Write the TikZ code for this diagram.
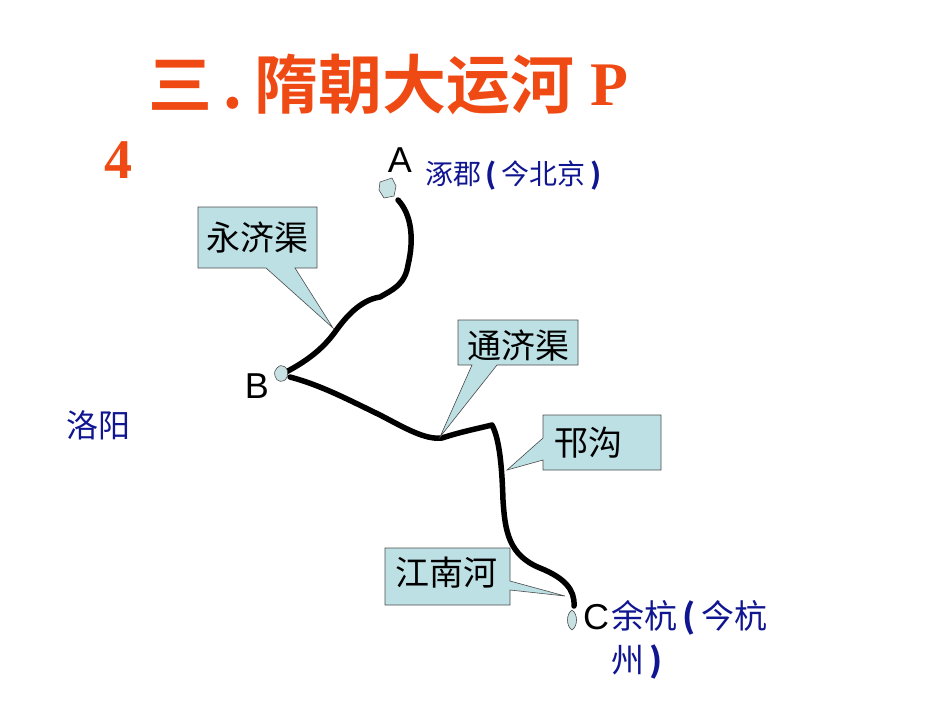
\documentclass[tikz,border=0pt]{standalone}
\usepackage{fontspec}
\setmainfont{Liberation Sans}
\newfontfamily\serifb{Liberation Serif}
\newfontfamily\cjk{Noto Sans CJK SC}
\newfontfamily\cjkb{Noto Sans CJK SC Bold}
\definecolor{tred}{HTML}{F04A14}
\definecolor{navy}{HTML}{101590}
\definecolor{callfill}{HTML}{BDE0E4}
\definecolor{lakefill}{HTML}{C8E2E4}
\begin{document}
\begin{tikzpicture}[x=1pt,y=-1pt,
  callout/.style={draw=black!70,fill=callfill,line width=0.6pt},
  calltext/.style={font=\cjk\fontsize{34}{36}\selectfont,inner sep=0pt},
  lake/.style={draw=black!70,fill=lakefill,line width=0.6pt},
  river/.style={line width=5.5pt,line join=round,line cap=round},
  letter/.style={font=\fontsize{36}{38}\selectfont,inner sep=0pt},
  bluetext/.style={text=navy,font=\cjk\fontsize{28}{30}\selectfont,anchor=west,inner sep=0pt}]
\useasboundingbox (0,0) rectangle (950,713);
% title
\node[text=tred,font=\cjkb\fontsize{64}{66}\selectfont,anchor=west,inner sep=0pt] (title) at (148,85) {三\,.\,隋朝大运河};
\node[text=tred,font=\serifb\bfseries\fontsize{62}{64}\selectfont,anchor=west,inner sep=0pt] (titleP) at (590,85) {P};
\node[text=tred,font=\serifb\bfseries\fontsize{56}{60}\selectfont,inner sep=0pt] (four) at (118,160) {4};
% rivers
\draw[river] (398,200) .. controls (412,215) and (414,240) .. (408,265)
  .. controls (405,285) and (392,290) .. (380,297)
  .. controls (360,300) and (345,318) .. (335,332)
  .. controls (322,350) and (305,362) .. (286,372);
\draw[river] (290,377) .. controls (320,385) and (345,398) .. (380,415)
  .. controls (405,428) and (425,440) .. (442,438)
  .. controls (460,432) and (480,428) .. (492,425)
  .. controls (500,440) and (502,470) .. (503,500)
  .. controls (505,530) and (508,555) .. (540,568)
  .. controls (565,578) and (575,590) .. (574,606);
% lakes
\draw[lake] (380,182) -- (392,178) -- (396,186) -- (394,196) -- (384,198) -- (379,190) -- cycle;
\node[inner sep=0pt] (lakeA) at (388,188) {};
\draw[lake] (277,368) .. controls (282,362) and (290,368) .. (287,377) .. controls (284,384) and (276,382) .. (275,376) .. controls (274,372) and (275,370) .. (277,368);
\node[inner sep=0pt] (lakeB) at (281,374) {};
\draw[lake] (572,610) .. controls (578,614) and (578,626) .. (572,630) .. controls (566,626) and (566,614) .. (572,610);
\node[inner sep=0pt] (lakeC) at (572,620) {};
% callouts
\draw[callout] (198,207) -- (317,207) -- (317,268) -- (295,268) -- (333,328) -- (266,268) -- (198,268) -- cycle;
\node[calltext] (yj) at (257,238) {永济渠};
\draw[callout] (458,320) -- (578,320) -- (578,365) -- (497,365) -- (440,437) -- (472,365) -- (458,365) -- cycle;
\node[calltext] (tj) at (518,346) {通济渠};
\draw[callout] (543,415) -- (661,415) -- (661,470) -- (543,470) -- (543,460) -- (507,470) -- (543,438) -- cycle;
\node[calltext] (hg) at (588,443) {邗沟};
\draw[callout] (385,548) -- (510,548) -- (510,581) -- (565,596) -- (510,590) -- (510,605) -- (385,605) -- cycle;
\node[calltext] (jn) at (446,573) {江南河};
% letters
\node[letter] (A) at (400,160) {A};
\node[letter] (B) at (257,386) {B};
\node[letter] (C) at (596,617) {C};
\node[bluetext] (zj) at (425,175) {涿郡\,\textbf{(}\,今北京\,\textbf{)}};
\node[bluetext,font=\cjk\fontsize{32}{34}\selectfont] (ly) at (66,425) {洛阳};
\node[bluetext,font=\cjk\fontsize{33}{35}\selectfont] (yh) at (611,618) {余杭\,\textbf{(}\,今杭};
\node[bluetext,font=\cjk\fontsize{33}{35}\selectfont] (zh) at (611,662) {州\,\textbf{)}};
\end{tikzpicture}
\end{document}
